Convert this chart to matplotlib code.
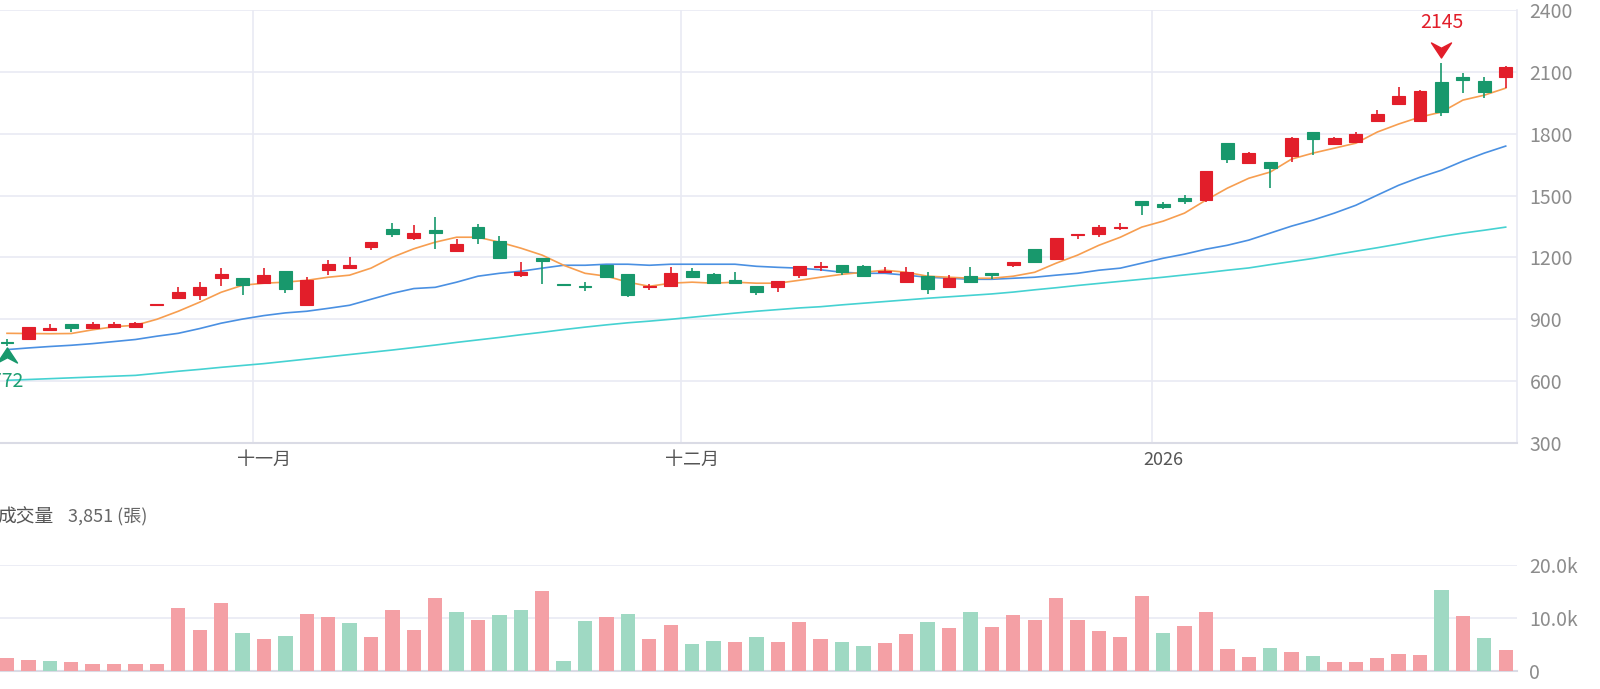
import matplotlib
matplotlib.use('Agg')
import matplotlib.pyplot as plt
import matplotlib.transforms as mtrans
from matplotlib.path import Path
import numpy as np

plt.rcParams['font.family'] = ['Noto Sans CJK TC', 'DejaVu Sans']

# ---------------- data ----------------
opens = [792, 803, 847, 876, 856, 861, 861, 971, 1002, 1017,
         1099, 1099, 1075, 1133, 968, 1138, 1148, 1250, 1337, 1293,
         1332, 1230, 1347, 1279, 1114, 1196, 1071, 1062, 1162, 1119,
         1058, 1060, 1133, 1119, 1089, 1060, 1055, 1114, 1155, 1162,
         1157, 1131, 1080, 1109, 1055, 1109, 1123, 1162, 1240, 1191,
         1311, 1313, 1345, 1473, 1458, 1487, 1478, 1754, 1657, 1662,
         1691, 1808, 1750, 1759, 1861, 1944, 1861, 2050, 2075, 2055, 2075]
highs = [803, 861, 876, 878, 886, 886, 886, 975, 1055, 1080,
         1148, 1102, 1148, 1136, 1104, 1187, 1201, 1276, 1366, 1356,
         1395, 1288, 1361, 1303, 1177, 1198, 1071, 1080, 1165, 1121,
         1070, 1153, 1148, 1124, 1128, 1062, 1086, 1160, 1177, 1165,
         1162, 1153, 1153, 1128, 1114, 1153, 1125, 1179, 1242, 1296,
         1316, 1356, 1366, 1475, 1468, 1502, 1620, 1756, 1710, 1665,
         1784, 1810, 1782, 1808, 1915, 2026, 2010, 2145, 2094, 2075, 2126]
lows = [772, 803, 845, 837, 854, 859, 860, 971, 1000, 992,
        1060, 1017, 1070, 1026, 966, 1114, 1146, 1235, 1298, 1284,
        1240, 1228, 1264, 1194, 1104, 1070, 1068, 1036, 1102, 1007,
        1041, 1058, 1102, 1073, 1073, 1017, 1031, 1099, 1133, 1114,
        1107, 1129, 1078, 1022, 1053, 1075, 1094, 1153, 1175, 1189,
        1288, 1298, 1332, 1405, 1434, 1458, 1468, 1657, 1655, 1536,
        1662, 1696, 1748, 1757, 1859, 1942, 1859, 1886, 1997, 1973, 2021]
closes = [786, 861, 856, 856, 878, 876, 884, 975, 1031, 1055,
          1119, 1065, 1114, 1046, 1089, 1167, 1162, 1274, 1313, 1318,
          1320, 1264, 1293, 1196, 1128, 1184, 1068, 1058, 1104, 1017,
          1062, 1123, 1104, 1075, 1075, 1031, 1084, 1157, 1159, 1128,
          1109, 1135, 1128, 1046, 1099, 1080, 1114, 1177, 1177, 1293,
          1315, 1347, 1349, 1453, 1444, 1473, 1618, 1677, 1706, 1633,
          1779, 1774, 1779, 1798, 1895, 1983, 2007, 1905, 2060, 2002, 2123]

ma5 = [832, 831, 830, 831, 849, 864, 871, 900, 939, 983,
       1031, 1065, 1075, 1080, 1089, 1104, 1114, 1148, 1201, 1242,
       1274, 1298, 1298, 1274, 1245, 1211, 1162, 1123, 1109, 1080,
       1060, 1075, 1080, 1075, 1080, 1075, 1075, 1089, 1104, 1118,
       1128, 1138, 1128, 1109, 1104, 1099, 1099, 1109, 1128, 1172,
       1211, 1259, 1298, 1347, 1376, 1415, 1478, 1536, 1584, 1614,
       1677, 1706, 1730, 1754, 1808, 1847, 1881, 1905, 1963, 1987, 2021]
ma20 = [753, 761, 768, 774, 782, 792, 802, 818, 832, 855,
        881, 901, 918, 931, 939, 953, 968, 997, 1026, 1049,
        1055, 1080, 1109, 1123, 1133, 1148, 1162, 1162, 1167, 1167,
        1162, 1167, 1167, 1167, 1167, 1157, 1152, 1148, 1140, 1128,
        1123, 1123, 1114, 1104, 1099, 1094, 1094, 1099, 1104, 1114,
        1123, 1138, 1148, 1172, 1196, 1216, 1240, 1259, 1284, 1318,
        1352, 1381, 1415, 1453, 1502, 1550, 1589, 1623, 1667, 1706, 1740]
ma60 = [604, 608, 612, 616, 620, 624, 628, 638, 648, 657,
        667, 676, 685, 696, 707, 718, 729, 740, 751, 763,
        775, 788, 800, 812, 825, 837, 850, 862, 873, 883,
        891, 900, 910, 920, 930, 939, 947, 955, 961, 970,
        978, 986, 994, 1002, 1009, 1016, 1023, 1032, 1043, 1053,
        1064, 1074, 1084, 1094, 1104, 1115, 1126, 1138, 1149, 1165,
        1180, 1195, 1213, 1230, 1247, 1265, 1284, 1302, 1318, 1332, 1347]

volumes = [2400, 2030, 1840, 1710, 1270, 1270, 1270, 1270, 11900, 7780,
           12850, 7220, 6080, 6580, 10760, 10130, 8990, 6330, 11460, 7720,
           13730, 11140, 9560, 10570, 11520, 15060, 1900, 9430, 10130, 10700,
           5950, 8610, 5060, 5700, 5380, 6460, 5440, 9300, 5950, 5380,
           4680, 5320, 6960, 9240, 8160, 11200, 8290, 10570, 9560, 13730,
           9620, 7470, 6330, 14110, 7150, 8480, 11080, 4180, 2660, 4370,
           3480, 2720, 1580, 1710, 2400, 3230, 3040, 15320, 10380, 6200, 3851]
vol_dir = list("uuduuuuuuu" "ududuuduuu" "ududduddud" "uudduduuud"
               "duududuuuu" "uuuuduuuud" "uduuuuudud" "u")

month_ticks = [12, 32, 54]
month_labels = ['十一月', '十二月', '2026']
month_bounds = [11.5, 31.5, 53.5]

price_ticks = [300, 600, 900, 1200, 1500, 1800, 2100, 2400]
vol_ticks = [0, 10000, 20000]
vol_tick_labels = ['0', '10.0k', '20.0k']

hi_idx, hi_val = 67, 2145
lo_idx, lo_val = 0, 772
last_volume_text = '3,851 (張)'

# ---------------- style ----------------
RED = '#E21E2A'
GREEN = '#18986C'
VOL_UP = '#F4A0A5'
VOL_DN = '#9FD9C3'
GRID = '#E9EAF3'
AXIS = '#DADBE5'
LABEL = '#8C8C8C'

W, H = 1600, 689
fig = plt.figure(figsize=(W / 100, H / 100), dpi=100)

spacing = 21.41
xmin = -7 / spacing
xmax = xmin + 1517 / spacing

ax = fig.add_axes([0, (H - 443) / H, 1517 / W, (443 - 10) / H])
axv = fig.add_axes([0, (H - 670.7) / H, 1517 / W, (670.7 - 565) / H])

n = len(opens)
x = np.arange(n)
o = np.array(opens); c = np.array(closes)
hi = np.array(highs); lo = np.array(lows)
up = c >= o
colors = np.where(up, RED, GREEN)

# moving averages
ax.plot(x, ma60, color='#45D2D2', lw=1.2, zorder=2)
ax.plot(x, ma20, color='#4A90E2', lw=1.2, zorder=2)
ax.plot(x, ma5, color='#F79E50', lw=1.2, zorder=2)

# candles
ax.vlines(x, lo, hi, colors=colors, lw=1.2, zorder=3)
ax.bar(x, np.abs(c - o), bottom=np.minimum(o, c), width=0.6,
       color=colors, edgecolor=colors, linewidth=0.8, zorder=4)

# markers
down_arrow = Path([(-1.33, 1), (0, 0.3), (1.33, 1), (0, -1), (-1.33, 1)],
                  [Path.MOVETO, Path.LINETO, Path.LINETO, Path.LINETO, Path.CLOSEPOLY])
up_arrow = Path([(-1.33, -1), (0, -0.3), (1.33, -1), (0, 1), (-1.33, -1)],
                [Path.MOVETO, Path.LINETO, Path.LINETO, Path.LINETO, Path.CLOSEPOLY])
tr_hi = mtrans.offset_copy(ax.transData, fig=fig, x=0, y=13, units='dots')
ax.plot([hi_idx], [hi_val], marker=down_arrow, markersize=14.4, color=RED,
        transform=tr_hi, clip_on=False, zorder=6, lw=0)
ax.annotate(str(hi_val), (hi_idx, hi_val), xytext=(0, 28.5), textcoords='offset points',
            ha='center', va='center', color=RED, fontsize=14, annotation_clip=False)
tr_lo = mtrans.offset_copy(ax.transData, fig=fig, x=0, y=-9.5, units='dots')
ax.plot([lo_idx], [lo_val], marker=up_arrow, markersize=14.4, color=GREEN,
        transform=tr_lo, clip_on=False, zorder=6, lw=0)
ax.annotate(str(lo_val), (lo_idx, lo_val), xytext=(0, -26), textcoords='offset points',
            ha='center', va='center', color='#1E9E72', fontsize=14, annotation_clip=False)

ax.set_xlim(xmin, xmax)
ax.set_ylim(300, 2400)
ax.set_yticks(price_ticks)
ax.yaxis.tick_right()
ax.tick_params(axis='y', length=0, pad=9, labelsize=14, labelcolor=LABEL)
ax.set_xticks(month_ticks)
ax.set_xticklabels(month_labels)
ax.tick_params(axis='x', length=0, pad=6, labelsize=13, labelcolor='#555555')
ax.grid(axis='y', color=GRID, lw=1.2, zorder=0)
for b in month_bounds:
    ax.axvline(b, color=GRID, lw=1.2, zorder=0)
for s in ['top', 'left']:
    ax.spines[s].set_visible(False)
ax.spines['right'].set_color(GRID)
ax.spines['right'].set_linewidth(1.2)
ax.spines['bottom'].set_color(AXIS)
ax.spines['bottom'].set_linewidth(1.5)

# volume
vcolors = [VOL_UP if d == 'u' else VOL_DN for d in vol_dir]
axv.bar(x, volumes, width=0.67, color=vcolors, zorder=3)
axv.set_xlim(xmin, xmax)
axv.set_ylim(0, 20000)
axv.set_yticks(vol_ticks)
axv.set_yticklabels(vol_tick_labels)
axv.yaxis.tick_right()
axv.tick_params(axis='y', length=0, pad=9, labelsize=14, labelcolor=LABEL)
axv.set_xticks([])
axv.grid(axis='y', color=GRID, lw=1.2, zorder=0)
for s in ['top', 'left', 'right']:
    axv.spines[s].set_visible(False)
axv.spines['bottom'].set_color(AXIS)
axv.spines['bottom'].set_linewidth(1.5)

fig.text(54 / W, 1 - 517 / H, '成交量', ha='right', va='center', fontsize=13.5, color='#555555')
fig.text(68 / W, 1 - 517 / H, last_volume_text, ha='left', va='center', fontsize=13, color='#666666')

fig.savefig('out.png', dpi=100, facecolor='white')
